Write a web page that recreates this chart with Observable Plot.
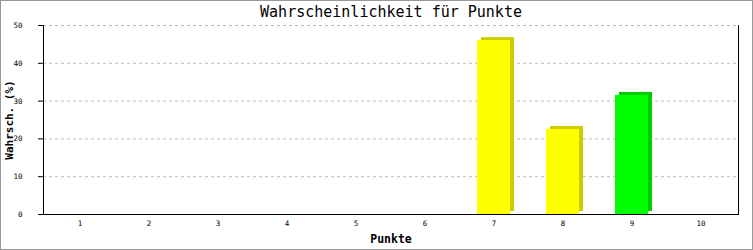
<!DOCTYPE html>
<html>
<head>
<meta charset="utf-8">
<script src="https://cdn.jsdelivr.net/npm/d3@7"></script>
<script src="https://cdn.jsdelivr.net/npm/@observablehq/plot@0.6"></script>
<style>
  html, body { margin: 0; padding: 0; background: #fff; }
  #wrap { position: relative; width: 753px; height: 250px; }
  #border { position: absolute; left: 0; top: 0; width: 753px; height: 250px; box-sizing: border-box; border: 1px solid #999; pointer-events: none; }
</style>
</head>
<body>
<div id="wrap"><div id="border"></div></div>
<script>
const punkte = ["1","2","3","4","5","6","7","8","9","10"];
const wahrsch = [0, 0, 0, 0, 0, 0, 46, 22.5, 31.5, 0];
const farben = ["#ffff00","#ffff00","#ffff00","#ffff00","#ffff00","#ffff00","#ffff00","#ffff00","#00ff00","#ffff00"];
const schatten = ["#cccc00","#cccc00","#cccc00","#cccc00","#cccc00","#cccc00","#cccc00","#cccc00","#00cc00","#cccc00"];
const yTicks = [0, 10, 20, 30, 40, 50];
const title = "Wahrscheinlichkeit für Punkte";
const xLabel = "Punkte";
const yLabel = "Wahrsch. (%)";

const data = punkte.map((p, i) => ({p, v: wahrsch[i], c: farben[i], s: schatten[i]}));
const bars = data.filter(d => d.v > 0);
const font = "DejaVu Sans Mono";

const chart = Plot.plot({
  width: 753,
  height: 250,
  marginTop: 25,
  marginBottom: 36,
  marginLeft: 43,
  marginRight: 15,
  style: {fontFamily: font, fontSize: "7.5px", color: "#000", background: "transparent"},
  x: {type: "band", domain: punkte, paddingInner: 0.52, paddingOuter: 0.26, label: null, tickSize: 0, tickPadding: 6},
  y: {domain: [0, 50], ticks: yTicks, label: null, tickSize: 5, tickPadding: 16},
  marks: [
    Plot.ruleY(yTicks.filter(t => t > 0), {stroke: "#bbb", strokeDasharray: "3,3"}),
    Plot.barY(bars, {x: "p", y: "v", fill: "s", dx: 4, dy: -3}),
    Plot.barY(bars, {x: "p", y: "v", fill: "c"}),
    Plot.ruleY([0], {stroke: "#000"}),
    Plot.frame({anchor: "left", stroke: "#000"}),
    Plot.frame({anchor: "right", stroke: "#000"}),
    Plot.text([title], {frameAnchor: "top", dy: -13, fontSize: 15, lineAnchor: "middle"}),
    Plot.text([xLabel], {frameAnchor: "bottom", dy: 25, fontSize: 11.5, fontWeight: "bold", lineAnchor: "middle"}),
    Plot.text([yLabel], {frameAnchor: "left", dx: -34, rotate: -90, fontSize: 11, fontWeight: "bold", textAnchor: "middle", lineAnchor: "middle"})
  ]
});
document.getElementById("wrap").prepend(chart);
</script>
</body>
</html>
